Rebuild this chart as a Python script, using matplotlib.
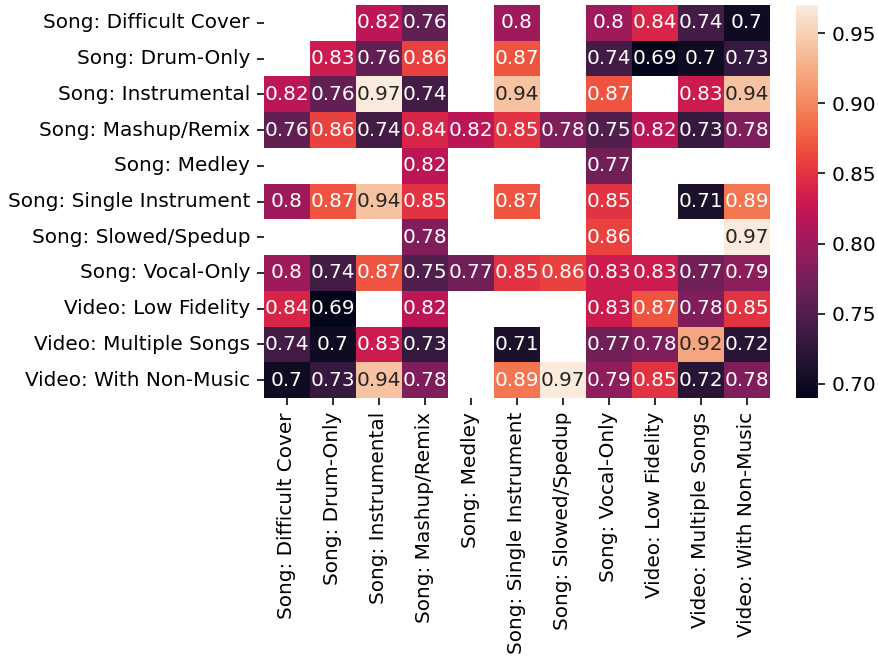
import numpy as np
import matplotlib
matplotlib.use("Agg")
import matplotlib.pyplot as plt
import seaborn as sns

# Category labels (same on both axes)
labels = [
    "Song: Difficult Cover", "Song: Drum-Only", "Song: Instrumental",
    "Song: Mashup/Remix", "Song: Medley", "Song: Single Instrument",
    "Song: Slowed/Spedup", "Song: Vocal-Only", "Video: Low Fidelity",
    "Video: Multiple Songs", "Video: With Non-Music",
]

nan = np.nan
row_difficult_cover = [nan, nan, 0.82, 0.76, nan, 0.80, nan, 0.80, 0.84, 0.74, 0.70]
row_drum_only       = [nan, 0.83, 0.76, 0.86, nan, 0.87, nan, 0.74, 0.69, 0.70, 0.73]
row_instrumental    = [0.82, 0.76, 0.97, 0.74, nan, 0.94, nan, 0.87, nan, 0.83, 0.94]
row_mashup_remix    = [0.76, 0.86, 0.74, 0.84, 0.82, 0.85, 0.78, 0.75, 0.82, 0.73, 0.78]
row_medley          = [nan, nan, nan, 0.82, nan, nan, nan, 0.77, nan, nan, nan]
row_single_instr    = [0.80, 0.87, 0.94, 0.85, nan, 0.87, nan, 0.85, nan, 0.71, 0.89]
row_slowed_spedup   = [nan, nan, nan, 0.78, nan, nan, nan, 0.86, nan, nan, 0.97]
row_vocal_only      = [0.80, 0.74, 0.87, 0.75, 0.77, 0.85, 0.86, 0.83, 0.83, 0.77, 0.79]
row_low_fidelity    = [0.84, 0.69, nan, 0.82, nan, nan, nan, 0.83, 0.87, 0.78, 0.85]
row_multiple_songs  = [0.74, 0.70, 0.83, 0.73, nan, 0.71, nan, 0.77, 0.78, 0.92, 0.72]
row_non_music       = [0.70, 0.73, 0.94, 0.78, nan, 0.89, 0.97, 0.79, 0.85, 0.72, 0.78]

scores = np.array([
    row_difficult_cover, row_drum_only, row_instrumental, row_mashup_remix,
    row_medley, row_single_instr, row_slowed_spedup, row_vocal_only,
    row_low_fidelity, row_multiple_songs, row_non_music,
])

plt.rcParams["font.family"] = ["DejaVu Sans"]

W, H, DPI = 878, 658, 144
fig = plt.figure(figsize=(W / DPI, H / DPI), dpi=DPI)
ax = fig.add_axes([264 / W, (H - 398) / H, (770 - 264) / W, (398 - 5) / H])
cax = fig.add_axes([796 / W, (H - 398) / H, 22 / W, (398 - 5) / H])

sns.heatmap(
    scores, ax=ax, cbar_ax=cax, annot=True,
    xticklabels=labels, yticklabels=labels,
)
ax.set_xticklabels(labels, rotation=90)
ax.set_yticklabels(labels, rotation=0)
cax.yaxis.set_major_formatter(matplotlib.ticker.FormatStrFormatter("%.2f"))

fig.savefig("out.png", dpi=DPI)
